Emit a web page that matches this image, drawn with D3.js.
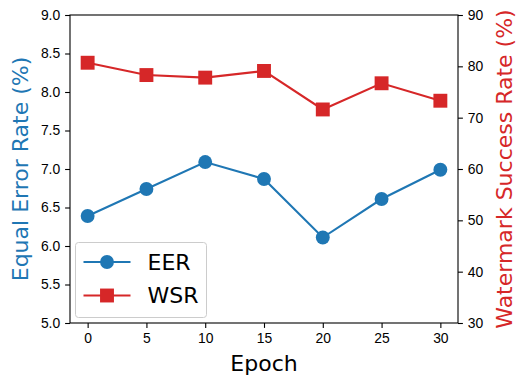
<!DOCTYPE html>
<html>
<head>
<meta charset="utf-8">
<script src="https://cdn.jsdelivr.net/npm/d3@7"></script>
<style>
    html, body { margin: 0; padding: 0; background: #fff; }
    svg { display: block; font-family: 'DejaVu Sans', sans-serif; }
</style>
</head>
<body>
<div id="chart"></div>
<script>
// Data
const epochs = [0, 5, 10, 15, 20, 25, 30];
const eerValues = [6.39, 6.74, 7.09, 6.87, 6.11, 6.61, 6.99];
const wsrValues = [80.7, 78.3, 77.8, 79.1, 71.6, 76.7, 73.3];
const xTicks = [0, 5, 10, 15, 20, 25, 30];
const eerTicks = [5.0, 5.5, 6.0, 6.5, 7.0, 7.5, 8.0, 8.5, 9.0];
const wsrTicks = [30, 40, 50, 60, 70, 80, 90];

const BLUE = '#1f77b4';
const RED = '#d62728';

const W = 523, H = 385;
const plot = { left: 70, right: 458, top: 15, bottom: 323 };

const svg = d3.select('#chart')
    .append('svg')
    .attr('width', W)
    .attr('height', H);

const x = d3.scaleLinear().domain([-1.5, 31.5]).range([plot.left, plot.right]);
const yL = d3.scaleLinear().domain([5, 9]).range([plot.bottom, plot.top]);
const yR = d3.scaleLinear().domain([30, 90]).range([plot.bottom, plot.top]);

// ── Axes ─────────────────────────────────────────────────
function styleAxis(g) {
    g.selectAll('.tick line').attr('stroke', '#000').attr('stroke-width', 1.1);
    g.selectAll('.tick text').attr('fill', '#000').style('font-size', '13.9px');
    g.select('.domain').remove();
}

svg.append('g')
    .attr('transform', `translate(0,${plot.bottom})`)
    .call(d3.axisBottom(x).tickValues(xTicks).tickSize(4.9).tickPadding(4.9).tickFormat(d3.format('d')))
    .call(styleAxis);

svg.append('g')
    .attr('transform', `translate(${plot.left},0)`)
    .call(d3.axisLeft(yL).tickValues(eerTicks).tickSize(4.9).tickPadding(4.9).tickFormat(d3.format('.1f')))
    .call(styleAxis);

svg.append('g')
    .attr('transform', `translate(${plot.right},0)`)
    .call(d3.axisRight(yR).tickValues(wsrTicks).tickSize(4.9).tickPadding(4.9).tickFormat(d3.format('d')))
    .call(styleAxis);

// Frame
svg.append('rect')
    .attr('x', plot.left)
    .attr('y', plot.top)
    .attr('width', plot.right - plot.left)
    .attr('height', plot.bottom - plot.top)
    .attr('fill', 'none')
    .attr('stroke', '#000')
    .attr('stroke-width', 1.1);

// ── Series ───────────────────────────────────────────────
const eerLine = d3.line().x((d, i) => x(epochs[i])).y(d => yL(d));
const wsrLine = d3.line().x((d, i) => x(epochs[i])).y(d => yR(d));

svg.append('path')
    .datum(eerValues)
    .attr('fill', 'none')
    .attr('stroke', BLUE)
    .attr('stroke-width', 2.1)
    .attr('d', eerLine);

svg.selectAll('.eer-dot')
    .data(eerValues)
    .join('circle')
    .attr('cx', (d, i) => x(epochs[i]))
    .attr('cy', d => yL(d))
    .attr('r', 6.95)
    .attr('fill', BLUE);

svg.append('path')
    .datum(wsrValues)
    .attr('fill', 'none')
    .attr('stroke', RED)
    .attr('stroke-width', 2.1)
    .attr('d', wsrLine);

const sq = 13.9;
svg.selectAll('.wsr-sq')
    .data(wsrValues)
    .join('rect')
    .attr('x', (d, i) => x(epochs[i]) - sq / 2)
    .attr('y', d => yR(d) - sq / 2)
    .attr('width', sq)
    .attr('height', sq)
    .attr('fill', RED);

// ── Labels ───────────────────────────────────────────────
svg.append('text')
    .attr('x', (plot.left + plot.right) / 2)
    .attr('y', 371)
    .attr('text-anchor', 'middle')
    .style('font-size', '22px')
    .attr('fill', '#000')
    .text('Epoch');

svg.append('text')
    .attr('transform', `translate(28,${(plot.top + plot.bottom) / 2}) rotate(-90)`)
    .attr('text-anchor', 'middle')
    .style('font-size', '22px')
    .attr('fill', BLUE)
    .text('Equal Error Rate (%)');

// both y labels read bottom to top
svg.append('text')
    .attr('transform', `translate(512,${(plot.top + plot.bottom) / 2}) rotate(-90)`)
    .attr('text-anchor', 'middle')
    .style('font-size', '22px')
    .attr('fill', RED)
    .text('Watermark Success Rate (%)');

// ── Legend ───────────────────────────────────────────────
const legendItems = [
    { label: 'EER', color: BLUE, shape: 'circle' },
    { label: 'WSR', color: RED, shape: 'square' }
];

const lg = svg.append('g').attr('transform', 'translate(75.5,242.5)');
lg.append('rect')
    .attr('width', 131)
    .attr('height', 75)
    .attr('rx', 3)
    .attr('fill', '#fff')
    .attr('fill-opacity', 0.8)
    .attr('stroke', '#ccc')
    .attr('stroke-width', 1);

legendItems.forEach((item, i) => {
    const cy = 19.5 + i * 33.5;
    const row = lg.append('g').attr('transform', `translate(0,${cy})`);
    row.append('line')
        .attr('x1', 8).attr('x2', 55)
        .attr('stroke', item.color)
        .attr('stroke-width', 2.1);
    if (item.shape === 'circle') {
        row.append('circle').attr('cx', 31.5).attr('r', 6.95).attr('fill', item.color);
    } else {
        row.append('rect')
            .attr('x', 31.5 - sq / 2).attr('y', -sq / 2)
            .attr('width', sq).attr('height', sq)
            .attr('fill', item.color);
    }
    row.append('text')
        .attr('x', 72)
        .attr('dy', '0.36em')
        .style('font-size', '22px')
        .attr('fill', '#000')
        .text(item.label);
});
</script>
</body>
</html>
